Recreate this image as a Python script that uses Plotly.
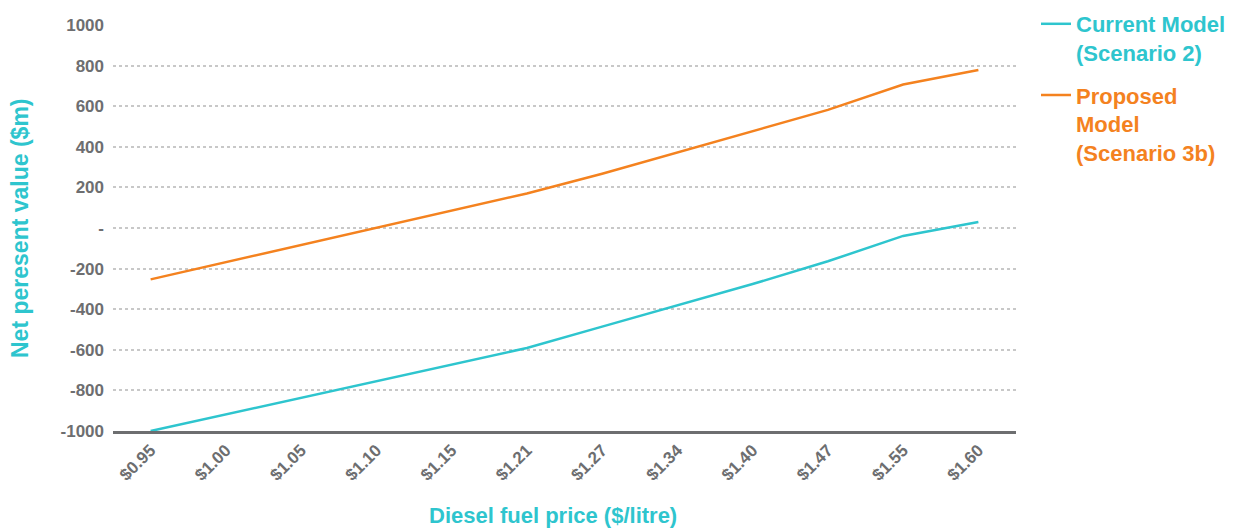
import plotly.graph_objects as go

# Diesel fuel price categories ($/litre)
prices = ["$0.95", "$1.00", "$1.05", "$1.10", "$1.15", "$1.21",
          "$1.27", "$1.34", "$1.40", "$1.47", "$1.55", "$1.60"]

# Net present value ($m) for each model at each fuel price
current_model = [-1000, -918, -837, -755, -673, -591,
                 -486, -380, -276, -164, -39, 30]
proposed_model = [-253, -168, -84, 1, 86, 170,
                  267, 373, 477, 582, 707, 778]

# Y-axis ticks (zero shown as a dash, accounting style)
y_ticks = [1000, 800, 600, 400, 200, 0, -200, -400, -600, -800, -1000]
y_tick_text = ["1000", "800", "600", "400", "200", "-", "-200", "-400", "-600", "-800", "-1000"]

CYAN = "#2ec5ce"
ORANGE = "#f4821f"
GREY = "#6d6e70"
FONT = "Liberation Sans"


def legend_label(text, color):
    return f"<span style='color:{color}'><b>{text}</b></span>"


fig = go.Figure()
fig.add_trace(go.Scatter(
    x=prices, y=current_model, mode="lines",
    name=legend_label("Current Model<br>(Scenario 2)", CYAN),
    line=dict(color=CYAN, width=2.5), legendgroup="a",
))
fig.add_trace(go.Scatter(
    x=prices, y=proposed_model, mode="lines",
    name=legend_label("Proposed<br>Model<br>(Scenario 3b)", ORANGE),
    line=dict(color=ORANGE, width=2.5), legendgroup="b",
))

fig.update_layout(
    width=1239, height=530,
    margin=dict(l=113, r=223, t=25, b=99),
    paper_bgcolor="white", plot_bgcolor="white",
    font=dict(family=FONT, color=GREY),
    showlegend=True,
    legend=dict(
        xref="container", yref="container",
        x=1036 / 1239, y=1 - 3 / 530, xanchor="left", yanchor="top",
        valign="top", tracegroupgap=11,
        font=dict(size=22, family=FONT),
        bgcolor="rgba(0,0,0,0)",
    ),
    xaxis=dict(
        type="category", range=[-0.5, 11.5],
        showgrid=False, zeroline=False,
        showline=True, linecolor=GREY, linewidth=2.5,
        ticks="", tickangle=-45,
        tickfont=dict(size=17, family=FONT, color=GREY, weight="bold"),
    ),
    yaxis=dict(
        range=[-1000, 1000],
        tickvals=y_ticks, ticktext=y_tick_text,
        showgrid=True, gridcolor="#c8c8c8", griddash="dot", gridwidth=1.5,
        zeroline=False, showline=False, ticks="",
        ticklabelstandoff=8,
        tickfont=dict(size=17, family=FONT, color=GREY, weight="bold"),
    ),
    annotations=[
        dict(text="<b>Diesel fuel price ($/litre)</b>", xref="paper", yref="paper",
             x=0.487, y=-0.207, xanchor="center", yanchor="middle",
             showarrow=False, font=dict(size=22, family=FONT, color=CYAN)),
        dict(text="<b>Net peresent value ($m)</b>", xref="paper", yref="paper",
             x=-0.103, y=0.5, xanchor="center", yanchor="middle", textangle=-90,
             showarrow=False, font=dict(size=23, family=FONT, color=CYAN)),
    ],
)

fig.write_html("out.html")
